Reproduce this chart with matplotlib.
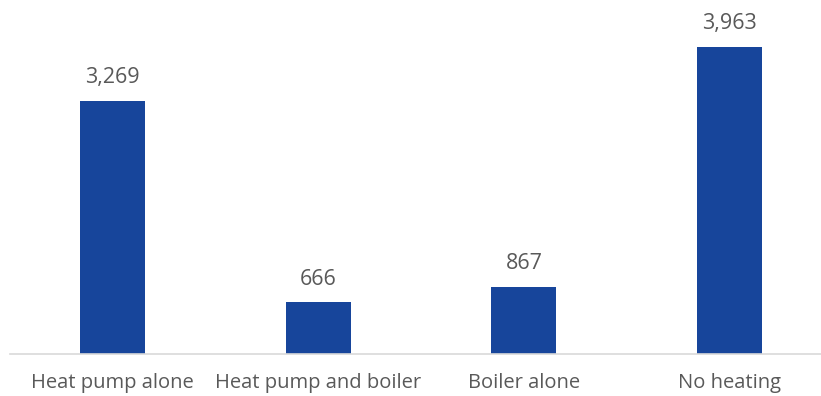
import matplotlib.pyplot as plt

categories = ['Heat pump alone', 'Heat pump and boiler', 'Boiler alone', 'No heating']
values = [3269, 666, 867, 3963]

W, H = 821, 396
fig = plt.figure(figsize=(W / 100, H / 100), dpi=100)
ax = fig.add_axes([10 / W, (H - 354) / H, (W - 10) / W, 354 / H])

x = range(len(categories))
ax.bar(x, values, width=0.316, color='#17459b', zorder=2)

# value labels above the bars
for i, v in zip(x, values):
    ax.annotate(f'{v:,}', (i, v), xytext=(0, 9), textcoords='offset points',
                ha='center', va='bottom', fontsize=15.5, color='#595959',
                family='Open Sans')

ax.set_xlim(-0.498, 3.444)
ax.set_ylim(0, 4568)
ax.set_xticks(list(x))
ax.set_xticklabels(categories, fontsize=14.5, color='#595959', family='Open Sans')
ax.tick_params(axis='x', length=0, pad=14)
ax.set_yticks([])
for s in ['top', 'right', 'left']:
    ax.spines[s].set_visible(False)
ax.spines['bottom'].set_color('#d9d9d9')
ax.spines['bottom'].set_linewidth(1.2)

fig.savefig('out.png', dpi=100)
